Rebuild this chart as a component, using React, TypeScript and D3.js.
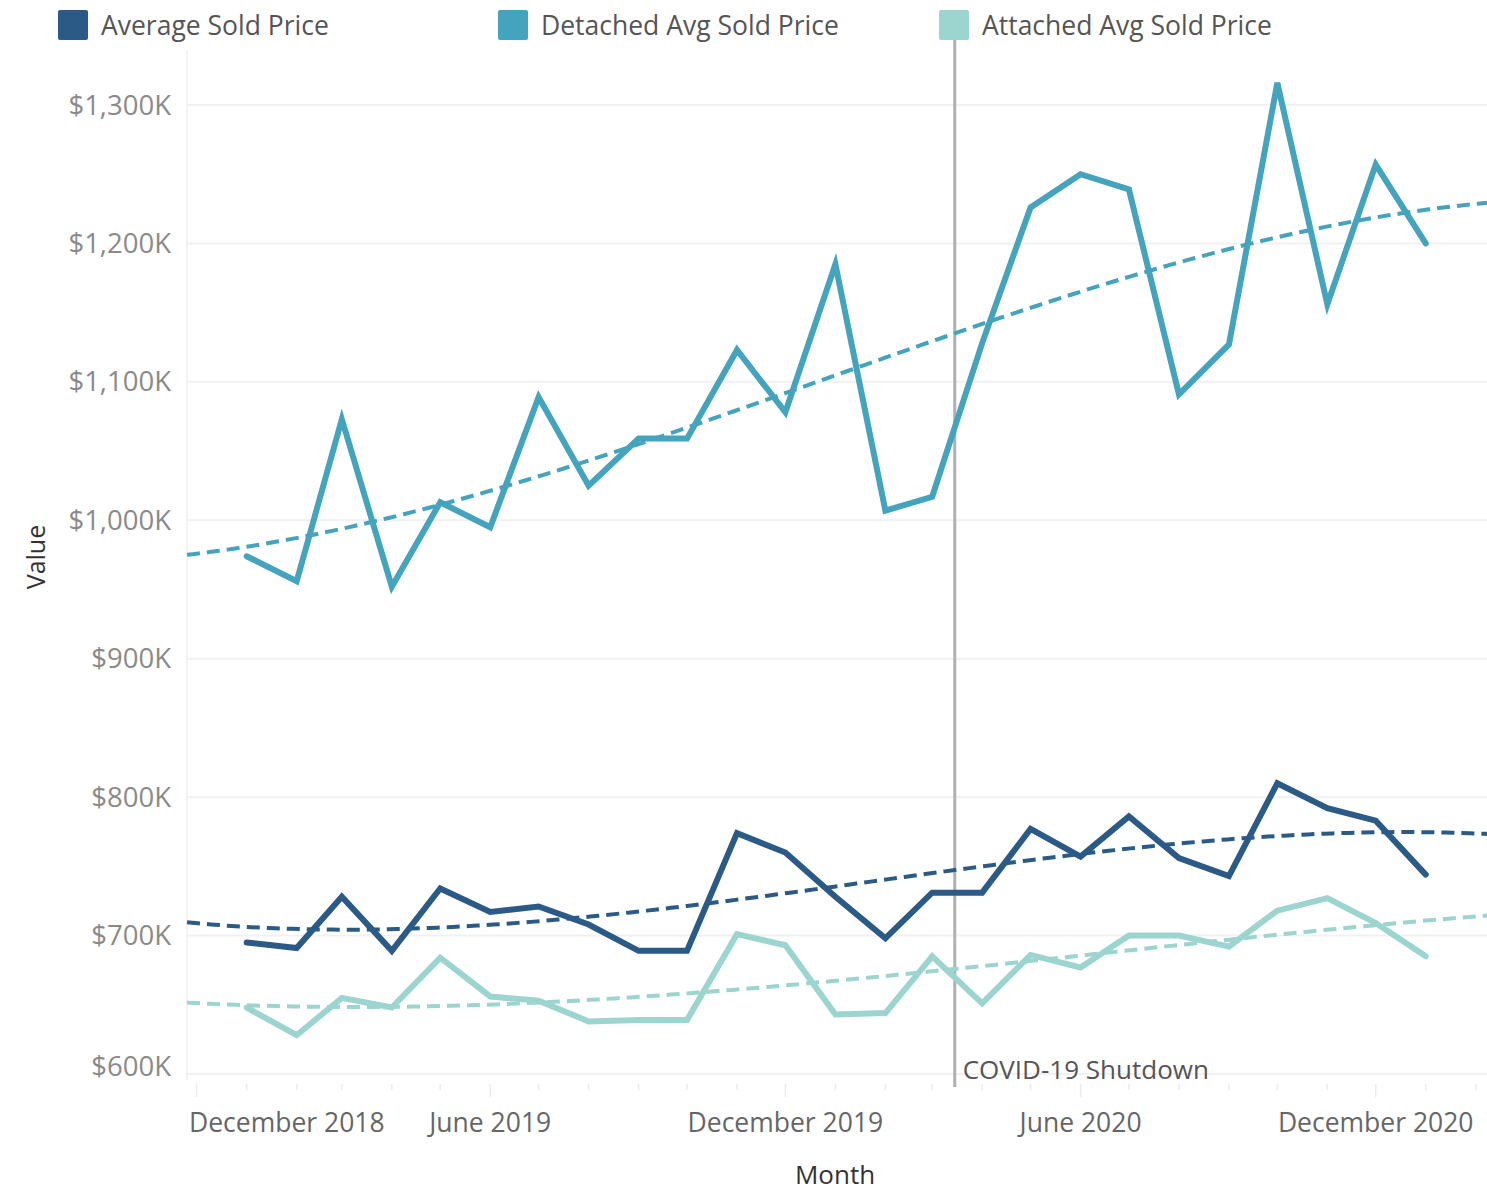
import * as d3 from "d3";

const months = [
  "2019-01", "2019-02", "2019-03", "2019-04", "2019-05", "2019-06", "2019-07",
  "2019-08", "2019-09", "2019-10", "2019-11", "2019-12", "2020-01", "2020-02",
  "2020-03", "2020-04", "2020-05", "2020-06", "2020-07", "2020-08", "2020-09",
  "2020-10", "2020-11", "2020-12", "2021-01",
];

// values in $K
const averageSold = [
  695, 691, 728, 689, 734, 717, 721, 708, 689, 689, 774, 760, 728,
  698, 731, 731, 777, 757, 786, 756, 743, 810, 792, 783, 744,
];
const detachedSold = [
  974, 956, 1073, 952, 1013, 995, 1089, 1025, 1059, 1059, 1123, 1078, 1185,
  1007, 1017, 1128, 1226, 1250, 1239, 1091, 1127, 1316, 1156, 1257, 1200,
];
const attachedSold = [
  648, 628, 655, 648, 684, 656, 653, 638, 639, 639, 701, 693, 643,
  644, 685, 651, 686, 677, 700, 700, 692, 718, 727, 709, 685,
];

const yTicks = [600, 700, 800, 900, 1000, 1100, 1200, 1300];
const xTickLabels = ["2018-12", "2019-06", "2019-12", "2020-06", "2020-12"];
const covidDate = "2020-03-15";

const series = [
  { name: "Average Sold Price", values: averageSold, color: "#2b5a87" },
  { name: "Detached Avg Sold Price", values: detachedSold, color: "#44a3bd" },
  { name: "Attached Avg Sold Price", values: attachedSold, color: "#9cd4cf" },
];

const W = 1487;
const H = 1191;
const left = 187;
const right = 1487;
const font = "'Open Sans', 'Noto Sans', sans-serif";

const parse = (s: string) => new Date(s + (s.length === 7 ? "-01" : "") + "T00:00:00");
const monthFmt = d3.timeFormat("%B %Y");

// least squares polynomial fit, returns a function of t
function polyFit(xs: number[], ys: number[], deg: number) {
  const n = deg + 1;
  const A = Array.from({ length: n }, () => new Array(n + 1).fill(0));
  xs.forEach((x, k) => {
    for (let i = 0; i < n; i++) {
      for (let j = 0; j < n; j++) A[i][j] += Math.pow(x, i + j);
      A[i][n] += ys[k] * Math.pow(x, i);
    }
  });
  for (let c = 0; c < n; c++) {
    let p = c;
    for (let r = c + 1; r < n; r++) if (Math.abs(A[r][c]) > Math.abs(A[p][c])) p = r;
    [A[c], A[p]] = [A[p], A[c]];
    for (let r = 0; r < n; r++) {
      if (r === c) continue;
      const f = A[r][c] / A[c][c];
      for (let j = c; j <= n; j++) A[r][j] -= f * A[c][j];
    }
  }
  const coef = A.map((row, i) => row[n] / row[i]);
  return (x: number) => coef.reduce((s, c, i) => s + c * Math.pow(x, i), 0);
}

export default function App() {
  const dates = months.map(parse);
  const x = d3
    .scaleTime()
    .domain([new Date(2018, 10, 25), new Date(2021, 1, 8)])
    .range([left, right]);
  const y = d3.scaleLinear().domain([600, 1300]).range([1074, 105]);

  const line = d3
    .line<[Date, number]>()
    .x((d) => x(d[0]))
    .y((d) => y(d[1]));

  // trend: cubic fit on time
  const t0 = dates[0].getTime();
  const toT = (d: Date) => (d.getTime() - t0) / (86400000 * 30.44) / 12;
  const trendDates = d3.timeDay.range(x.domain()[0], x.domain()[1], 5).concat([x.domain()[1]]);

  const monthTicks = d3.timeMonth.range(new Date(2018, 11, 1), x.domain()[1]);
  const majorSet = new Set(xTickLabels);
  const covidX = x(parse(covidDate));

  return (
    <svg
      width={W}
      height={H}
      style={{ position: "absolute", left: 0, top: 0, display: "block", background: "#fff" }}
      fontFamily={font}
    >
      {/* legend */}
      {series.map((s, i) => {
        const lx = [58, 498, 939][i];
        return (
          <g key={s.name}>
            <rect x={lx} y={10} width={30} height={30} rx={2} fill={s.color} />
            <text x={lx + 43} y={35} fontSize={26.5} fill="#555">
              {s.name}
            </text>
          </g>
        );
      })}

      {/* grid */}
      {yTicks.map((v) => (
        <line key={v} x1={left} x2={right} y1={y(v)} y2={y(v)} stroke="#f1f1f1" strokeWidth={2} />
      ))}
      <line x1={left} x2={left} y1={50} y2={1080} stroke="#f3f3f3" strokeWidth={2} />

      {/* y labels */}
      {yTicks.map((v) => (
        <text
          key={v}
          x={171}
          y={v === 600 ? y(v) - 8 : y(v)}
          dy="0.35em"
          textAnchor="end"
          fontSize={27.5}
          fill="#8a8a8a"
        >
          {"$" + d3.format(",")(v) + "K"}
        </text>
      ))}
      <text
        transform={`translate(45,557) rotate(-90)`}
        textAnchor="middle"
        fontSize={25}
        fill="#333"
      >
        Value
      </text>

      {/* x ticks */}
      {monthTicks.map((d) => {
        const key = d3.timeFormat("%Y-%m")(d);
        const major = majorSet.has(key);
        return (
          <line
            key={key}
            x1={x(d)}
            x2={x(d)}
            y1={1084}
            y2={major ? 1097 : 1090}
            stroke="#ececec"
            strokeWidth={1.5}
          />
        );
      })}
      {xTickLabels.map((s) => {
        const d = parse(s);
        const cx = x(d);
        const label = monthFmt(d);
        const first = cx - 96 < left;
        return (
          <text
            key={s}
            x={first ? left + 2 : cx}
            y={1132}
            textAnchor={first ? "start" : "middle"}
            fontSize={26.5}
            fill="#666"
          >
            {label}
          </text>
        );
      })}
      <text x={835} y={1184} textAnchor="middle" fontSize={26} fill="#333">
        Month
      </text>

      {/* covid reference line */}
      <line x1={covidX} x2={covidX} y1={40} y2={1087} stroke="#b0b0b0" strokeWidth={3} />
      <text x={covidX + 8} y={1079} fontSize={26} fill="#555">
        COVID-19 Shutdown
      </text>

      {/* trend lines */}
      {series.map((s) => {
        const f = polyFit(dates.map(toT), s.values, 3);
        const pts = trendDates.map((d) => [d, f(toT(d))] as [Date, number]);
        return (
          <path
            key={s.name + "-trend"}
            d={line(pts) ?? ""}
            fill="none"
            stroke={s.color}
            strokeWidth={4}
            strokeDasharray="13 7"
          />
        );
      })}

      {/* series lines */}
      {series.map((s) => (
        <path
          key={s.name}
          d={line(dates.map((d, i) => [d, s.values[i]] as [Date, number])) ?? ""}
          fill="none"
          stroke={s.color}
          strokeWidth={6}
          strokeLinejoin="miter"
          strokeLinecap="round"
        />
      ))}
    </svg>
  );
}
